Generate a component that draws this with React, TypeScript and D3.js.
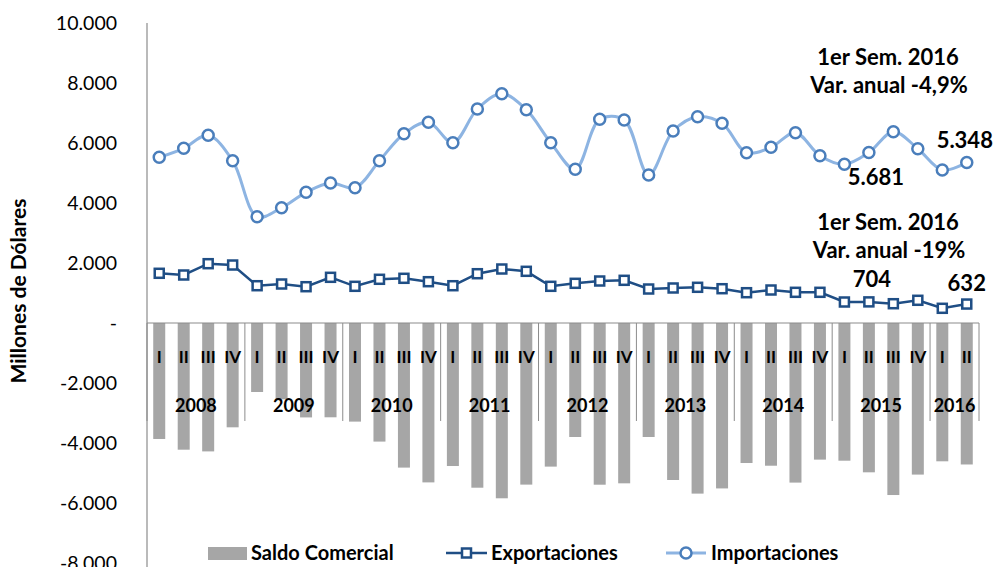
import React from "react";
import * as d3 from "d3";

// Quarterly trade figures, millions of dollars
const years = ["2008", "2009", "2010", "2011", "2012", "2013", "2014", "2015", "2016"];
const quarters = [
  "I", "II", "III", "IV", "I", "II", "III", "IV", "I", "II", "III", "IV",
  "I", "II", "III", "IV", "I", "II", "III", "IV", "I", "II", "III", "IV",
  "I", "II", "III", "IV", "I", "II", "III", "IV", "I", "II",
];
const quartersPerYear = [4, 4, 4, 4, 4, 4, 4, 4, 2];

const importaciones = [
  5523, 5823, 6257, 5410, 3543, 3843, 4357, 4667, 4510, 5410, 6310, 6690,
  6010, 7133, 7643, 7110, 6010, 5123, 6790, 6767, 4933, 6400, 6877, 6657,
  5677, 5857, 6343, 5577, 5290, 5681, 6377, 5810, 5100, 5348,
];
const exportaciones = [
  1657, 1600, 1977, 1933, 1243, 1300, 1210, 1523, 1223, 1457, 1490, 1377,
  1243, 1643, 1800, 1723, 1223, 1323, 1400, 1423, 1133, 1167, 1190, 1143,
  1010, 1100, 1023, 1023, 700, 704, 643, 757, 490, 632,
];
const saldoComercial = [
  -3866, -4223, -4280, -3477, -2300, -2543, -3147, -3143, -3287, -3953, -4820, -5313,
  -4767, -5490, -5843, -5387, -4787, -3800, -5390, -5344, -3800, -5233, -5687, -5514,
  -4667, -4757, -5320, -4554, -4590, -4977, -5734, -5053, -4610, -4716,
];
const yTicks = [10000, 8000, 6000, 4000, 2000, 0, -2000, -4000, -6000, -8000];

const W = 995;
const H = 567;
const FONT = "Lato, 'Noto Sans', sans-serif";

const fmt = (v: number) => {
  if (v === 0) return "-";
  const s = Math.abs(v).toString().replace(/\B(?=(\d{3})+(?!\d))/g, ".");
  return (v < 0 ? "-" : "") + s;
};

export default function App() {
  const idx = quarters.map((_, i) => i);
  const x = d3.scaleBand<number>().domain(idx).range([147, 979]).padding(0);
  const bw = x.bandwidth();
  const cx = (i: number) => (x(i) as number) + bw / 2;
  const y = d3.scaleLinear().domain([-8000, 10000]).range([563, 23]);
  const y0 = y(0);

  const impLine = d3
    .line<number>()
    .x((_, i) => cx(i))
    .y((d) => y(d))
    .curve(d3.curveCatmullRom.alpha(0.5));
  const expLine = d3
    .line<number>()
    .x((_, i) => cx(i))
    .y((d) => y(d));

  const barW = 12;
  const impColor = "#8db4e2";
  const impMarker = "#4a7ebb";
  const expColor = "#1f4e85";
  const axisColor = "#8c8c8c";

  // year group boundaries
  const starts: number[] = [];
  let acc = 0;
  quartersPerYear.forEach((n) => {
    starts.push(acc);
    acc += n;
  });
  const boundaries = [...starts, acc].map((s) => 147 + s * bw);

  return (
    <svg
      width={W}
      height={H}
      style={{ position: "absolute", left: 0, top: 0, background: "#fff" }}
      fontFamily={FONT}
    >
      {/* bars: trade balance */}
      {saldoComercial.map((v, i) => (
        <rect
          key={"b" + i}
          x={cx(i) - barW / 2}
          y={y0}
          width={barW}
          height={y(v) - y0}
          fill="#a6a6a6"
        />
      ))}

      {/* y axis */}
      <line x1={147} x2={147} y1={23} y2={H} stroke={axisColor} strokeWidth={1.2} />
      {yTicks.map((t) => (
        <text key={"t" + t} x={117} y={y(t)} dy="0.35em" textAnchor="end" fontSize={19.5} fill="#000">
          {fmt(t)}
        </text>
      ))}
      <text
        transform={`translate(26, 291) rotate(-90)`}
        textAnchor="middle"
        fontSize={21}
        fontWeight="bold"
        fill="#000"
      >
        Millones de Dólares
      </text>

      {/* category axis */}
      <line x1={147} x2={979} y1={y0} y2={y0} stroke={axisColor} strokeWidth={1.2} />
      {boundaries.map((bx, i) => (
        <line key={"s" + i} x1={bx} x2={bx} y1={y0} y2={421} stroke={axisColor} strokeWidth={1} />
      ))}
      {quarters.map((q, i) => (
        <text key={"q" + i} x={cx(i)} y={357} dy="0.35em" textAnchor="middle" fontSize={17} fontWeight="bold" fill="#000">
          {q}
        </text>
      ))}
      {years.map((yr, k) => (
        <text
          key={"y" + yr}
          x={(boundaries[k] + boundaries[k + 1]) / 2}
          y={406}
          dy="0.35em"
          textAnchor="middle"
          fontSize={18}
          fontWeight="bold"
          fill="#000"
        >
          {yr}
        </text>
      ))}

      {/* imports */}
      <path d={impLine(importaciones) || ""} fill="none" stroke={impColor} strokeWidth={3} />
      {importaciones.map((v, i) => (
        <circle key={"c" + i} cx={cx(i)} cy={y(v)} r={5.5} fill="#fff" stroke={impMarker} strokeWidth={2.5} />
      ))}

      {/* exports */}
      <path d={expLine(exportaciones) || ""} fill="none" stroke={expColor} strokeWidth={2.5} />
      {exportaciones.map((v, i) => (
        <rect key={"e" + i} x={cx(i) - 4.5} y={y(v) - 4.5} width={9} height={9} fill="#fff" stroke={expColor} strokeWidth={2.5} />
      ))}

      {/* annotations */}
      <g fontSize={22} fontWeight="bold" fill="#000" textAnchor="middle">
        <text x={888} y={57} dy="0.35em">1er Sem. 2016</text>
        <text x={889} y={85} dy="0.35em">Var. anual -4,9%</text>
        <text x={cx(29) + 7} y={177} dy="0.35em">{fmt(importaciones[29])}</text>
        <text x={cx(33) - 2} y={140} dy="0.35em">{fmt(importaciones[33])}</text>
        <text x={888} y={222} dy="0.35em">1er Sem. 2016</text>
        <text x={889} y={250} dy="0.35em">Var. anual -19%</text>
        <text x={cx(29) + 3} y={279} dy="0.35em">{fmt(exportaciones[29])}</text>
        <text x={cx(33)} y={283} dy="0.35em">{fmt(exportaciones[33])}</text>
      </g>

      {/* legend */}
      <g fontSize={20} fontWeight="bold" fill="#000">
        <rect x={208} y={547} width={39} height={13} fill="#a6a6a6" />
        <text x={251} y={553} dy="0.35em">Saldo Comercial</text>
        <line x1={446} x2={487} y1={553} y2={553} stroke={expColor} strokeWidth={2.5} />
        <rect x={462} y={548.5} width={9} height={9} fill="#fff" stroke={expColor} strokeWidth={2.5} />
        <text x={491} y={553} dy="0.35em">Exportaciones</text>
        <line x1={666} x2={706} y1={553} y2={553} stroke={impColor} strokeWidth={3} />
        <circle cx={686} cy={553} r={5.5} fill="#fff" stroke={impMarker} strokeWidth={2.5} />
        <text x={711} y={553} dy="0.35em">Importaciones</text>
      </g>
    </svg>
  );
}
